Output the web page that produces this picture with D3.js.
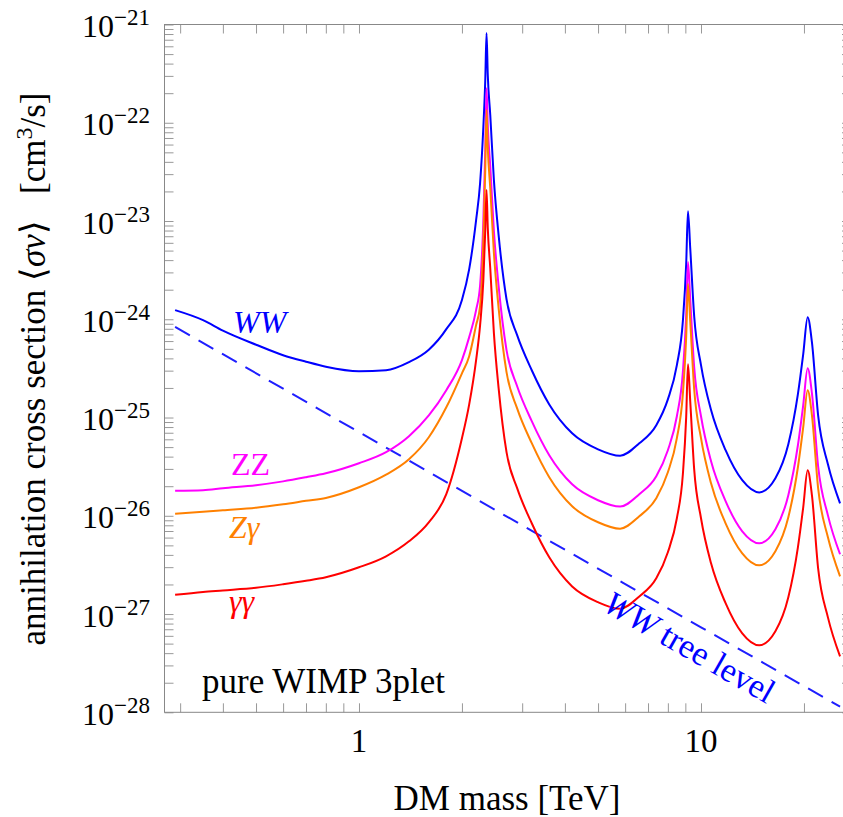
<!DOCTYPE html>
<html>
<head>
<meta charset="utf-8">
<script src="https://cdnjs.cloudflare.com/ajax/libs/d3/7.8.5/d3.min.js"></script>
<style>
  body { margin: 0; background: #fff; }
  svg text { font-family: "Liberation Serif", "Times New Roman", serif; }
</style>
</head>
<body>
<div id="svg-div"></div>
<script>
// DM mass grid [TeV] shared by the four channels
var massTeV = [0.29, 0.35, 0.4, 0.5, 0.6, 0.7, 0.8, 1.0, 1.2, 1.4, 1.6, 1.8, 2.0, 2.1, 2.2, 2.26, 2.31, 2.34,
  2.36, 2.38, 2.42, 2.48, 2.56, 2.7, 2.9, 3.2, 3.6, 4.2, 5.0, 5.8, 6.6, 7.4, 8.0, 8.5, 8.85, 9.05, 9.16,
  9.3, 9.55, 10.0, 10.7, 11.8, 13.2, 14.8, 16.5, 18.0, 19.2, 19.9, 20.5, 21.1, 22.0, 23.5, 25.5];

// <sigma v> [cm^3/s]
var sigmaWW = [1.24e-24, 9.8e-25, 7.66e-25, 5.51e-25, 4.31e-25, 3.70e-25, 3.29e-25, 2.96e-25, 3.03e-25, 3.66e-25,
  4.90e-25, 7.93e-25, 1.57e-24, 3.24e-24, 1.02e-23, 2.43e-23, 9.04e-23, 2.72e-22, 8.18e-22, 3.06e-22,
  1.20e-22, 2.61e-23, 7.18e-24, 1.60e-24, 6.89e-25, 3.03e-25, 1.36e-25, 6.92e-26, 4.75e-26, 4.08e-26,
  5.47e-26, 8.36e-26, 1.53e-25, 3.41e-25, 9.57e-25, 3.64e-24, 1.26e-23, 5.30e-24, 1.08e-24, 3.41e-25,
  1.19e-25, 4.65e-26, 2.30e-26, 1.73e-26, 2.41e-26, 5.35e-26, 1.73e-25, 4.42e-25, 1.05e-24, 5.85e-25,
  1.05e-25, 3.34e-26, 1.34e-26];
var sigmaZZ = [1.80e-26, 1.82e-26, 1.91e-26, 2.05e-26, 2.24e-26, 2.47e-26, 2.71e-26, 3.43e-26, 4.44e-26, 6.46e-26,
  1.05e-25, 1.90e-25, 3.84e-25, 6.58e-25, 1.24e-24, 2.22e-24, 1.02e-23, 5.27e-23, 2.25e-22, 9.27e-23,
  3.62e-23, 7.91e-24, 2.17e-24, 4.85e-25, 2.08e-25, 9.18e-26, 4.13e-26, 2.09e-26, 1.44e-26, 1.24e-26,
  1.66e-26, 2.53e-26, 4.65e-26, 1.03e-25, 2.90e-25, 1.10e-24, 3.82e-24, 1.60e-24, 3.26e-25, 1.03e-25,
  3.59e-26, 1.41e-26, 6.95e-27, 5.25e-27, 7.29e-27, 1.62e-26, 5.22e-26, 1.34e-25, 3.18e-25, 1.77e-25,
  3.19e-26, 1.01e-26, 4.06e-27];
var sigmaZgamma = [1.05e-26, 1.10e-26, 1.14e-26, 1.21e-26, 1.31e-26, 1.42e-26, 1.52e-26, 1.95e-26, 2.62e-26, 3.76e-26,
  6.30e-26, 1.27e-25, 2.82e-25, 4.21e-25, 8.71e-25, 1.36e-24, 6.40e-24, 3.30e-23, 1.35e-22, 5.53e-23,
  2.16e-23, 4.72e-24, 1.30e-24, 2.90e-25, 1.24e-25, 5.48e-26, 2.47e-26, 1.25e-26, 8.59e-27, 7.38e-27,
  9.89e-27, 1.51e-26, 2.77e-26, 6.17e-26, 1.73e-25, 6.58e-25, 2.28e-24, 9.57e-25, 1.95e-25, 6.17e-26,
  2.14e-26, 8.39e-27, 4.15e-27, 3.13e-27, 4.36e-27, 9.66e-27, 3.12e-26, 7.98e-26, 1.90e-25, 1.06e-25,
  1.91e-26, 6.04e-27, 2.42e-27];
var sigmaGammaGamma = [1.57e-27, 1.68e-27, 1.74e-27, 1.85e-27, 2.01e-27, 2.18e-27, 2.37e-27, 2.99e-27, 3.87e-27, 5.50e-27,
  8.59e-27, 1.66e-26, 6.15e-26, 1.36e-25, 3.84e-25, 8.71e-25, 2.50e-24, 8.07e-24, 2.07e-23, 8.47e-24,
  3.31e-24, 7.23e-25, 1.99e-25, 4.44e-26, 1.91e-26, 8.39e-27, 3.78e-27, 1.91e-27, 1.32e-27, 1.13e-27,
  1.51e-27, 2.31e-27, 4.25e-27, 9.44e-27, 2.65e-26, 1.01e-25, 3.49e-25, 1.47e-25, 2.98e-26, 9.44e-27,
  3.28e-27, 1.29e-27, 6.35e-28, 4.80e-28, 6.67e-28, 1.48e-27, 4.78e-27, 1.22e-26, 2.90e-26, 1.62e-26,
  2.92e-27, 9.25e-28, 3.71e-28];

// WW tree level (dashed)
var treeMass = [0.29, 1, 3, 10, 25.5];
var treeSigma = [8.36e-25, 7.11e-26, 8.0e-27, 7.33e-28, 1.14e-28];

// ticks
var xMajor = [1, 10];
var xMinor = [0.3, 0.4, 0.5, 0.6, 0.7, 0.8, 0.9, 2, 3, 4, 5, 6, 7, 8, 9, 20];
var yExponents = [-28, -27, -26, -25, -24, -23, -22, -21];

var width = 843;
var height = 817;
var plotL = 164.5, plotR = 851, plotT = 24.5, plotB = 712.3;

var svg = d3.select("#svg-div").append("svg")
  .attr("width", width).attr("height", height);

var x = d3.scaleLog().domain([0.27, 27.45]).range([plotL, plotR]);
var y = d3.scaleLog().domain([1e-28, 1e-21]).range([plotB, plotT]);

var yTicks = [];
yExponents.forEach(function (e) {
  for (var k = 1; k < 10; k++) {
    if (e === -21 && k > 1) break;
    yTicks.push(k * Math.pow(10, e));
  }
});
var xTicks = xMajor.concat(xMinor);

var tickColor = "#999";

function styleAxis(g) {
  g.select(".domain").remove();
  g.selectAll(".tick line").attr("stroke", tickColor).attr("stroke-width", 1);
  g.selectAll(".tick text").remove();
}

svg.append("g").attr("transform", "translate(0," + plotB + ")")
  .call(d3.axisBottom(x).tickValues(xTicks).tickSize(-9)).call(styleAxis);
svg.append("g").attr("transform", "translate(0," + plotT + ")")
  .call(d3.axisTop(x).tickValues(xTicks).tickSize(-9)).call(styleAxis);
svg.append("g").attr("transform", "translate(" + plotL + ",0)")
  .call(d3.axisLeft(y).tickValues(yTicks).tickSize(-9)).call(styleAxis);
svg.append("g").attr("transform", "translate(" + plotR + ",0)")
  .call(d3.axisRight(y).tickValues(yTicks).tickSize(-9)).call(styleAxis);

// frame
svg.append("rect")
  .attr("x", plotL).attr("y", plotT)
  .attr("width", plotR - plotL).attr("height", plotB - plotT)
  .attr("fill", "none").attr("stroke", "#888").attr("stroke-width", 1);

// x tick labels
svg.selectAll(".xlab").data(xMajor).enter().append("text")
  .attr("x", function (d) { return x(d); })
  .attr("y", plotB + 40)
  .attr("text-anchor", "middle")
  .attr("font-size", 33)
  .text(function (d) { return d; });

// y tick labels 10^e
var ylab = svg.selectAll(".ylab").data(yExponents).enter().append("text")
  .attr("x", 150)
  .attr("y", function (e) { return y(Math.pow(10, e)) + 12.5; })
  .attr("text-anchor", "end")
  .attr("font-size", 32);
ylab.append("tspan").text("10");
ylab.append("tspan").attr("dy", -12).attr("font-size", 23)
  .text(function (e) { return "\u2212" + (-e); });

// clip for curves
svg.append("clipPath").attr("id", "plotclip").append("rect")
  .attr("x", plotL).attr("y", plotT).attr("width", plotR - plotL).attr("height", plotB - plotT);

var line = d3.line()
  .curve(d3.curveMonotoneX)
  .x(function (d) { return x(d[0]); })
  .y(function (d) { return y(d[1]); });

var plot = svg.append("g").attr("clip-path", "url(#plotclip)");

plot.append("path")
  .datum(treeMass.map(function (m, i) { return [m, treeSigma[i]]; }))
  .attr("d", line)
  .attr("fill", "none").attr("stroke", "#1f1fff").attr("stroke-width", 2)
  .attr("stroke-dasharray", "17,10");

var series = [
  { values: sigmaWW, color: "#0000ff" },
  { values: sigmaZZ, color: "#ff00ff" },
  { values: sigmaZgamma, color: "#ff8000" },
  { values: sigmaGammaGamma, color: "#ff0000" }
];
series.forEach(function (s) {
  plot.append("path")
    .datum(massTeV.map(function (m, i) { return [m, s.values[i]]; }))
    .attr("d", line)
    .attr("fill", "none").attr("stroke", s.color).attr("stroke-width", 2)
    .attr("stroke-linejoin", "round");
});

// curve labels
function label(txt, xx, yy, color, italic) {
  return svg.append("text").attr("x", xx).attr("y", yy)
    .attr("font-size", 32).attr("fill", color)
    .attr("font-style", italic ? "italic" : "normal")
    .text(txt);
}
label("WW", 233, 333, "#0000ff", true);
label("ZZ", 231, 475, "#ff00ff", false);
var zg = label("", 229, 538, "#ff8000", false);
zg.append("tspan").attr("font-style", "italic").text("Z\u03b3");
label("\u03b3\u03b3", 229, 612, "#ff0000", true);

svg.append("text")
  .attr("transform", "translate(684,657) rotate(29.7)")
  .attr("text-anchor", "middle")
  .attr("font-size", 34).attr("fill", "#0000ff")
  .html('<tspan font-style="italic">WW</tspan> tree level');

svg.append("text").attr("x", 202).attr("y", 693)
  .attr("font-size", 35).attr("fill", "#000")
  .text("pure WIMP 3plet");

// axis titles
svg.append("text").attr("x", 507).attr("y", 810)
  .attr("text-anchor", "middle").attr("font-size", 35)
  .text("DM mass [TeV]");

var yt = svg.append("text")
  .attr("transform", "translate(45,369) rotate(-90)")
  .attr("text-anchor", "middle").attr("font-size", 35);
yt.append("tspan").text("annihilation cross section \u27e8");
yt.append("tspan").attr("font-style", "italic").text("\u03c3v");
yt.append("tspan").text("\u27e9\u00a0\u00a0\u00a0[cm");
yt.append("tspan").attr("dy", -13).attr("font-size", 24).text("3");
yt.append("tspan").attr("dy", 13).text("/s]");
</script>
</body>
</html>
